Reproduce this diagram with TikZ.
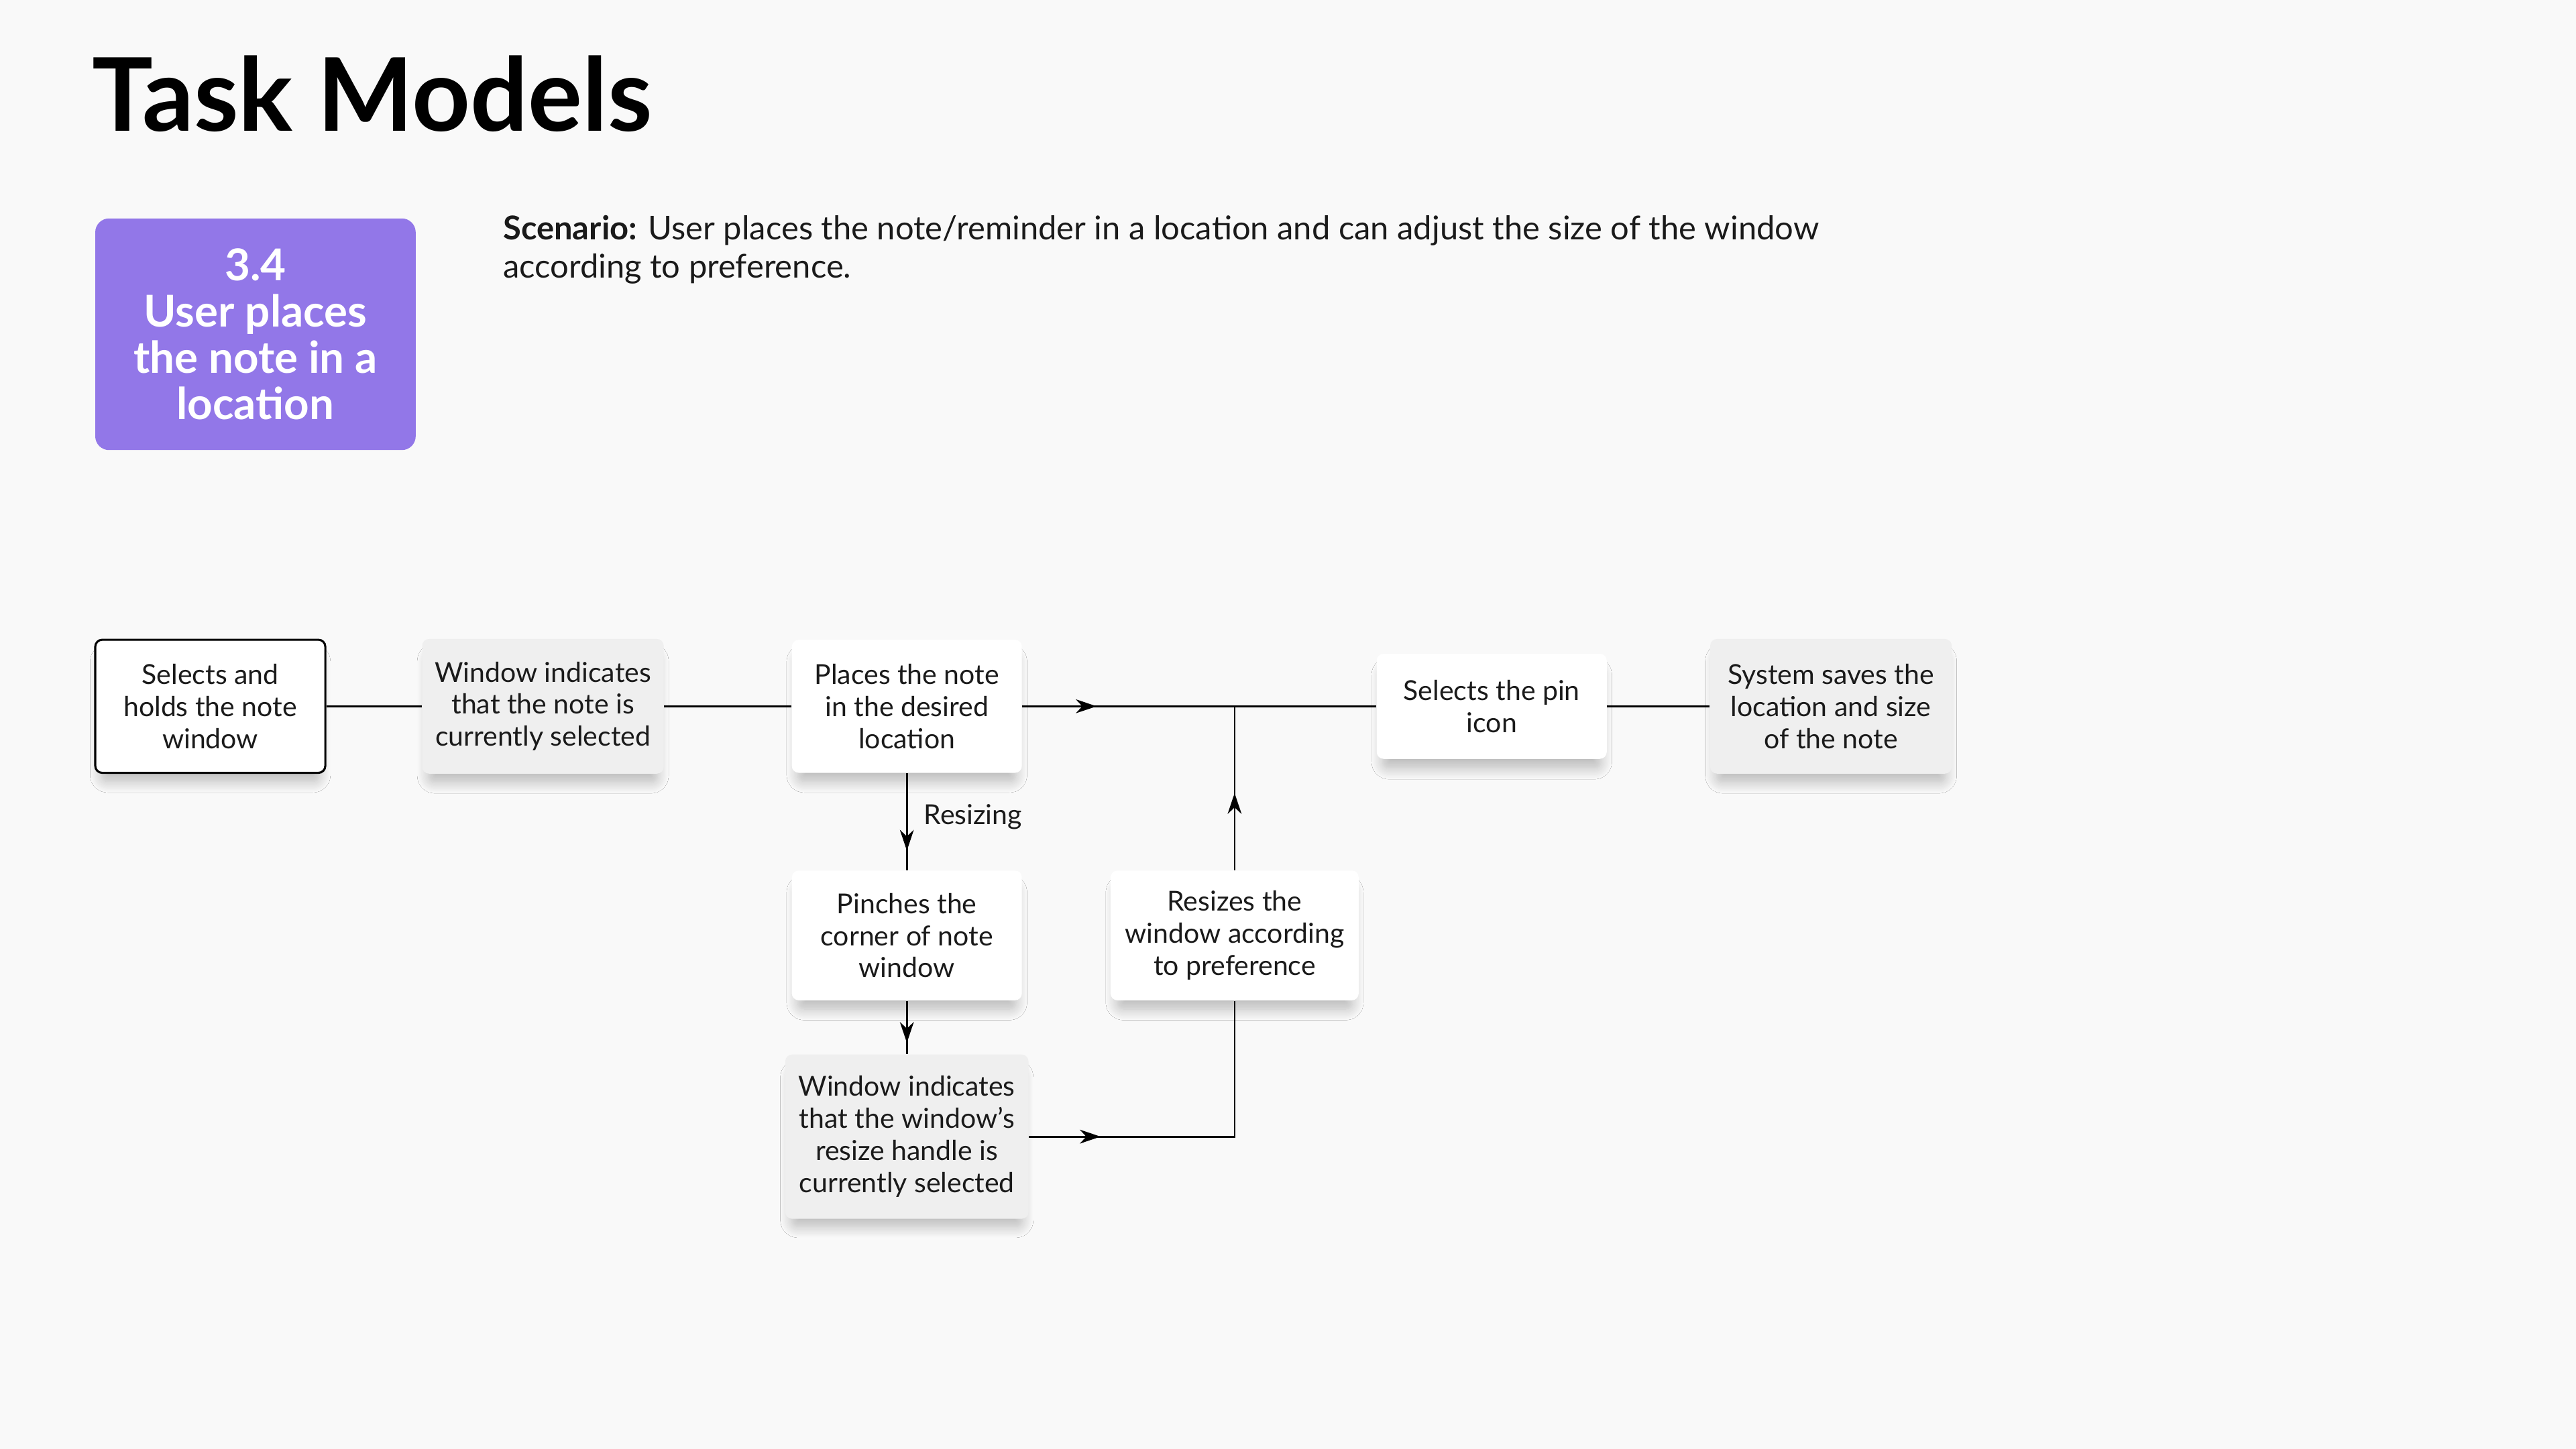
\documentclass[tikz,border=0pt]{standalone}
\usepackage{fontspec}
\setmainfont{Lato}
\usetikzlibrary{arrows.meta,decorations.markings,shadows.blur}
\definecolor{bg}{HTML}{F9F9F9}
\definecolor{boxgray}{HTML}{EFEFEF}
\definecolor{lilac}{HTML}{9277E8}
\definecolor{ink}{HTML}{1A1A1A}
\tikzset{
  task/.style={rounded corners=3pt, align=center, text=ink, inner sep=0pt,
    font=\fontsize{11.9}{13.9}\selectfont,
    blur shadow={shadow xshift=0pt, shadow yshift=-5.5pt, shadow scale=0.95, shadow blur radius=5pt,
      shadow blur steps=14, shadow opacity=25}},
  white task/.style={task, fill=white},
  gray task/.style={task, fill=boxgray},
  flow/.style={line width=0.8pt, draw=black},
  tipat/.style={flow, postaction={decorate},
    decoration={markings, mark=at position #1 with {\arrow{Stealth[length=9pt,width=6pt,inset=2.8pt]}}}}
}
\begin{document}
\begin{tikzpicture}[x=0.025cm, y=-0.025cm]
    \fill[bg] (0,0) rectangle (1568,882);
    \node[anchor=base west, inner sep=0pt, font=\fontsize{44}{48}\selectfont\bfseries] (title) at (56,80) {Task Models};
    \node[fill=lilac, rounded corners=6pt, minimum width=4.875cm, minimum height=3.525cm, text=white,
        align=center, font=\fontsize{19}{20}\selectfont\bfseries] (badge) at (155.5,203.5) {3.4\\User places\\the note in a\\location};
    \node[anchor=north west, align=left, inner sep=0pt, text=ink, font=\fontsize{14.2}{16.4}\selectfont] (scenario) at (306,131)
        {\textbf{Scenario:} User places the note/reminder in a location and can adjust the size of the window\\according to preference.};

    \node[white task, draw=black, line width=0.9pt, minimum width=3.5cm, minimum height=2.025cm] (select) at (128,430) {Selects and\\holds the note\\window};
    \node[gray task, minimum width=3.675cm, minimum height=2.05cm] (indicate) at (330.5,430) {Window indicates\\that the note is\\currently selected};
    \node[white task, minimum width=3.5cm, minimum height=2.025cm] (place) at (552,430) {Places the note\\in the desired\\location};
    \node[white task, minimum width=3.5cm, minimum height=1.6cm] (pin) at (908,430) {Selects the pin\\icon};
    \node[gray task, minimum width=3.675cm, minimum height=2.05cm] (save) at (1114.5,430) {System saves the\\location and size\\of the note};
    \node[white task, minimum width=3.5cm, minimum height=1.975cm] (pinch) at (552,569.5) {Pinches the\\corner of note\\window};
    \node[white task, minimum width=3.775cm, minimum height=1.975cm] (resize) at (751.5,569.5) {Resizes the\\window according\\to preference};
    \node[gray task, minimum width=3.7cm, minimum height=2.5cm] (handle) at (552,692) {Window indicates\\that the window’s\\resize handle is\\currently selected};
    \coordinate (join) at (resize |- place);

    \draw[flow] (select) -- (indicate);
    \draw[flow] (indicate) -- (place);
    \draw[tipat=0.21] (place) -- (pin);
    \draw[flow] (pin) -- (save);
    \draw[tipat=0.8] (place) -- node[pos=0.45, anchor=west, xshift=7pt, inner sep=0pt, text=ink, font=\fontsize{11.9}{13.9}\selectfont] (resizing) {Resizing} (pinch);
    \draw[tipat=0.79] (pinch) -- (handle);
    \draw[tipat=0.21] (handle) -| (resize);
    \draw[tipat=0.47] (resize) -- (join);
\end{tikzpicture}
\end{document}
